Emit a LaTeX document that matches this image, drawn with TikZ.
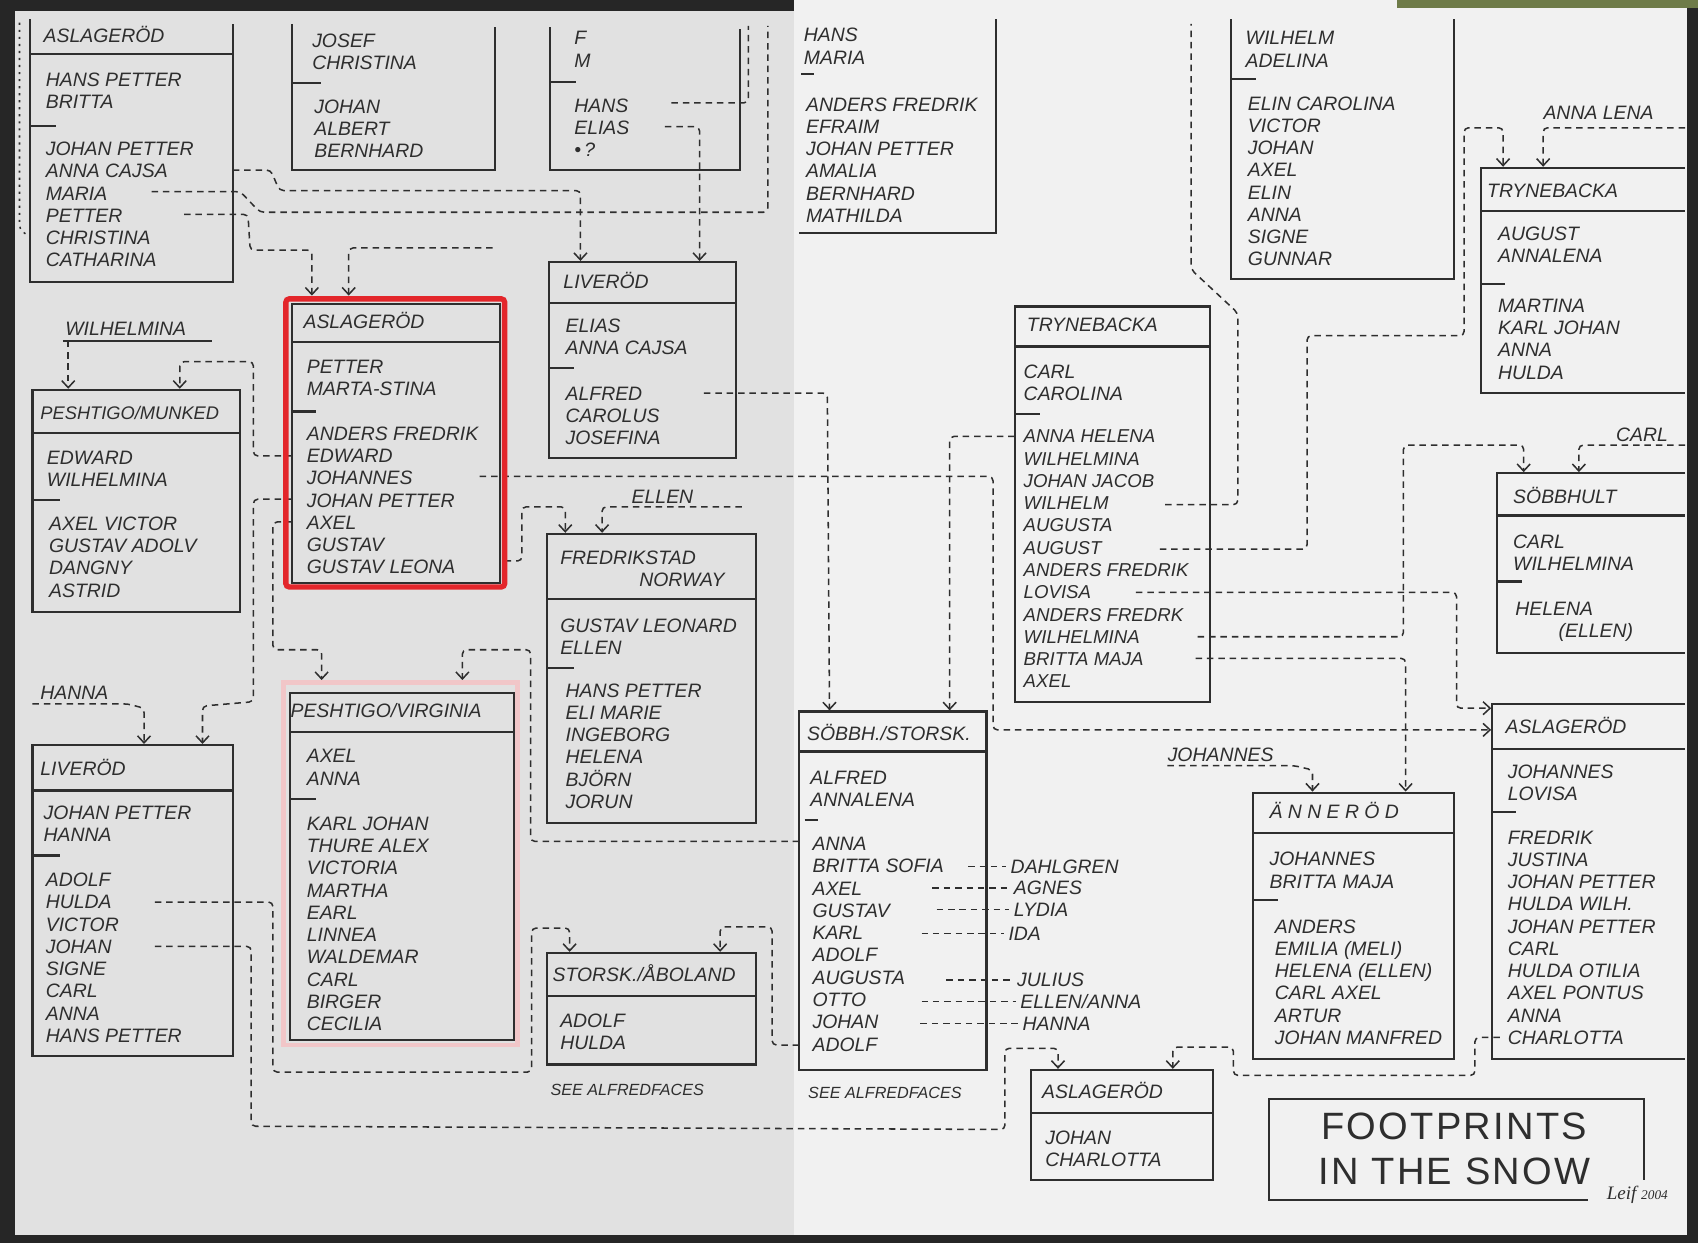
\documentclass[tikz,border=0pt]{standalone}
\usepackage{fontspec}
\setmainfont{Liberation Sans}
\newfontfamily\bannerfont[LetterSpace=6]{Liberation Sans}
\newfontfamily\signfont{Liberation Serif}
\usepackage{xcolor}
\usepackage{tikz}
\usetikzlibrary{arrows.meta, positioning, calc}
\definecolor{ink}{HTML}{2E2E2E}
\definecolor{pageleft}{HTML}{E1E1E1}
\definecolor{pageright}{HTML}{F1F1F1}
\definecolor{rim}{HTML}{262626}
\definecolor{markred}{HTML}{E3262B}
\definecolor{markpink}{HTML}{F3C4C6}
\definecolor{moss}{HTML}{6E7B48}

\begin{document}
\begin{tikzpicture}[x=0.2mm, y=-0.2mm,
    frame/.style={draw=ink, line width=1.1pt},
    famtitle/.style={anchor=west, inner sep=0pt, text=ink, text height=2.5mm, text depth=0pt, font=\fontsize{10.2}{11.7}\selectfont\itshape},
    famlist/.style={anchor=north west, yshift=1.24mm, inner sep=0pt, align=left, text=ink, font=\fontsize{10.2}{11.7}\selectfont\itshape},
    famnote/.style={famtitle, font=\fontsize{8.5}{10}\selectfont\itshape},
    link/.style={draw=ink, line width=0.8pt, dash pattern=on 1.2mm off 0.9mm, rounded corners=0.8mm},
    linkto/.style={link, -{Straight Barb[length=1.3mm, width=2.4mm]}}
]
\useasboundingbox (0,0) rectangle (1568,1148);

% Paper
\fill[rim] (0,0) rectangle (1568,1148);
\fill[pageleft] (14,10) rectangle (733,1140);
\fill[pageright] (733,0) rectangle (1558,1140);
\fill[moss] (1290,0) rectangle (1568,7);

% Aslageröd (top left)
\draw[frame] (28,18) -- (28,260) -- (215,260) -- (215,22);
\draw[frame] (28,50) -- (215,50);
\node[famtitle] (aslTLt) at (40,33) {ASLAGERÖD};
\node[famlist] (aslTLp) at (42,73) {HANS PETTER\\BRITTA};
\draw[frame] (28,116) -- (52,116);
\node[famlist] (aslTLc) at (42,137) {JOHAN PETTER\\ANNA CAJSA\\MARIA\\PETTER\\CHRISTINA\\CATHARINA};

% Josef / Christina
\draw[frame] (270,22) -- (270,157) -- (457,157) -- (457,25);
\node[famlist] (josefp) at (288,37) {JOSEF\\CHRISTINA};
\draw[frame] (270,77) -- (296,77);
\node[famlist] (josefc) at (290,98) {JOHAN\\ALBERT\\BERNHARD};

% F / M
\draw[frame] (508,25) -- (508,157) -- (683,157) -- (683,27);
\node[famlist] (fmp) at (530,35) {F\\M};
\draw[frame] (508,76) -- (532,76);
\node[famlist] (fmc) at (530,97) {HANS\\ELIAS\\•\,?};

% Hans / Maria
\draw[frame] (920,18) -- (920,215) -- (738,215);
\node[famlist] (hansp) at (742,32) {HANS\\MARIA};
\draw[frame] (740,68) -- (752,68);
\node[famlist] (hansc) at (744,96) {ANDERS FREDRIK\\EFRAIM\\JOHAN PETTER\\AMALIA\\BERNHARD\\MATHILDA};

% Wilhelm / Adelina
\draw[frame] (1137,18) -- (1137,258) -- (1343,258) -- (1343,18);
\node[famlist] (wilhp) at (1150,35) {WILHELM\\ADELINA};
\draw[frame] (1137,73) -- (1160,73);
\node[famlist] (wilhc) at (1152,95) {ELIN CAROLINA\\VICTOR\\JOHAN\\AXEL\\ELIN\\ANNA\\SIGNE\\GUNNAR};

% Trynebacka (right)
\draw[frame] (1556,155) -- (1368,155) -- (1368,363) -- (1556,363);
\draw[frame] (1368,195) -- (1556,195);
\node[famtitle] (trynRt) at (1373,176) {TRYNEBACKA};
\node[famlist] (trynRp) at (1383,215) {AUGUST\\ANNALENA};
\draw[frame] (1368,262) -- (1390,262);
\node[famlist] (trynRc) at (1383,282) {MARTINA\\KARL JOHAN\\ANNA\\HULDA};

% Aslageröd (marked red)
\draw[frame] (270,281) rectangle (462,538);
\draw[frame] (270,316) -- (462,316);
\node[famtitle] (aslRedt) at (280,297) {ASLAGERÖD};
\node[famlist] (aslRedp) at (283,338) {PETTER\\MARTA-STINA};
\draw[frame] (270,380) -- (292,380);
\node[famlist] (aslRedc) at (283,400) {ANDERS FREDRIK\\EDWARD\\JOHANNES\\JOHAN PETTER\\AXEL\\GUSTAV\\GUSTAV LEONA};

% Liveröd (middle)
\draw[frame] (507,242) rectangle (680,423);
\draw[frame] (507,280) -- (680,280);
\node[famtitle] (livMidt) at (520,260) {LIVERÖD};
\node[famlist] (livMidp) at (522,300) {ELIAS\\ANNA CAJSA};
\draw[frame] (507,340) -- (530,340);
\node[famlist] (livMidc) at (522,363) {ALFRED\\CAROLUS\\JOSEFINA};

% Peshtigo / Munked
\draw[frame] (30,360) rectangle (222,565);
\draw[frame] (30,400) -- (222,400);
\node[famtitle, font=\fontsize{9.6}{11}\selectfont\itshape] (peshMunt) at (37,381) {PESHTIGO/MUNKED};
\node[famlist] (peshMunp) at (43,422) {EDWARD\\WILHELMINA};
\draw[frame] (30,462) -- (55,462);
\node[famlist] (peshMunc) at (45,483) {AXEL VICTOR\\GUSTAV ADOLV\\DANGNY\\ASTRID};

% Fredrikstad Norway
\draw[frame] (505,493) rectangle (698,760);
\draw[frame] (505,553) -- (698,553);
\node[famtitle] (fredt) at (517,515) {FREDRIKSTAD};
\node[famtitle] (fredt2) at (590,535) {NORWAY};
\node[famlist] (fredp) at (517,577) {GUSTAV LEONARD\\ELLEN};
\draw[frame] (505,617) -- (530,617);
\node[famlist] (fredc) at (522,637) {HANS PETTER\\ELI MARIE\\INGEBORG\\HELENA\\BJÖRN\\JORUN};

% Peshtigo / Virginia
\draw[frame] (268,640) rectangle (475,960);
\draw[frame] (268,676) -- (475,676);
\node[famtitle] (peshVirt) at (268,656) {PESHTIGO/VIRGINIA};
\node[famlist] (peshVirp) at (283,698) {AXEL\\ANNA};
\draw[frame] (268,738) -- (292,738);
\node[famlist] (peshVirc) at (283,760) {KARL JOHAN\\THURE ALEX\\VICTORIA\\MARTHA\\EARL\\LINNEA\\WALDEMAR\\CARL\\BIRGER\\CECILIA};

% Liveröd (bottom left)
\draw[frame] (30,688) rectangle (215,975);
\draw[frame] (30,730) -- (215,730);
\node[famtitle] (livBLt) at (37,710) {LIVERÖD};
\node[famlist] (livBLp) at (40,750) {JOHAN PETTER\\HANNA};
\draw[frame] (30,790) -- (55,790);
\node[famlist] (livBLc) at (42,812) {ADOLF\\HULDA\\VICTOR\\JOHAN\\SIGNE\\CARL\\ANNA\\HANS PETTER};

% Storsk. / Åboland
\draw[frame] (505,880) rectangle (698,983);
\draw[frame] (505,920) -- (698,920);
\node[famtitle] (storskt) at (510,900) {STORSK./ÅBOLAND};
\node[famlist] (storskp) at (517,942) {ADOLF\\HULDA};
\node[famnote] (storskn) at (508,1005) {SEE ALFREDFACES};

% Söbbh. / Storsk.
\draw[frame] (738,657) rectangle (911,988);
\draw[frame] (738,694) -- (911,694);
\node[famtitle] (sobbht) at (745,678) {SÖBBH./STORSK.};
\node[famlist] (sobbhp) at (748,718) {ALFRED\\ANNALENA};
\draw[frame] (743,757) -- (755,757);
\node[famlist] (sobbhc) at (750,779) {ANNA\\BRITTA SOFIA\\AXEL\\GUSTAV\\KARL\\ADOLF\\AUGUSTA\\OTTO\\JOHAN\\ADOLF};
\node[famnote] (sobbhn) at (746,1008) {SEE ALFREDFACES};
\foreach \sx/\cy/\tx/\who [count=\i] in {894/800/933/DAHLGREN, 861/820/936/AGNES, 865/840/936/LYDIA, 851/862/931/IDA, 874/905/939/JULIUS, 851/925/942/ELLEN\slash ANNA, 850/945/944/HANNA}{
  \node[famtitle] (spouse\i) at (\tx,\cy) {\who};
  \draw[link] (\sx,\cy) -- ([xshift=-0.8mm]spouse\i.west);
}

% Trynebacka (middle)
\draw[frame] (937,283) rectangle (1117,648);
\draw[frame] (937,320) -- (1117,320);
\node[famtitle] (trynMt) at (948,300) {TRYNEBACKA};
\node[famlist] (trynMp) at (945,343) {CARL\\CAROLINA};
\draw[frame] (937,382) -- (960,382);
\node[famlist, font=\fontsize{9.8}{11.7}\selectfont\itshape] (trynMc) at (945,403) {ANNA HELENA\\WILHELMINA\\JOHAN JACOB\\WILHELM\\AUGUSTA\\AUGUST\\ANDERS FREDRIK\\LOVISA\\ANDERS FREDRK\\WILHELMINA\\BRITTA MAJA\\AXEL};

% Söbbhult
\draw[frame] (1556,437) -- (1382,437) -- (1382,603) -- (1556,603);
\draw[frame] (1382,476) -- (1556,476);
\node[famtitle] (sobbhultt) at (1397,459) {SÖBBHULT};
\node[famlist] (sobbhultp) at (1397,500) {CARL\\WILHELMINA};
\draw[frame] (1382,537) -- (1405,537);
\node[famlist] (sobbhultc) at (1399,562) {HELENA\\\hspace*{8mm}(ELLEN)};

% Änneröd
\draw[frame] (1157,732) rectangle (1343,978);
\draw[frame] (1157,769) -- (1343,769);
\node[famtitle] (annert) at (1172,750) {Ä N N E R Ö D};
\node[famlist] (annerp) at (1172,793) {JOHANNES\\BRITTA MAJA};
\draw[frame] (1157,831) -- (1180,831);
\node[famlist] (annerc) at (1177,855) {ANDERS\\EMILIA (MELI)\\HELENA (ELLEN)\\CARL AXEL\\ARTUR\\JOHAN MANFRED};

% Aslageröd (right)
\draw[frame] (1556,650) -- (1378,650) -- (1378,978) -- (1556,978);
\draw[frame] (1378,692) -- (1556,692);
\node[famtitle] (aslRt) at (1390,671) {ASLAGERÖD};
\node[famlist] (aslRp) at (1392,712) {JOHANNES\\LOVISA};
\draw[frame] (1378,750) -- (1400,750);
\node[famlist] (aslRc) at (1392,773) {FREDRIK\\JUSTINA\\JOHAN PETTER\\HULDA WILH.\\JOHAN PETTER\\CARL\\HULDA OTILIA\\AXEL PONTUS\\ANNA\\CHARLOTTA};

% Aslageröd (bottom)
\draw[frame] (952,988) rectangle (1120,1090);
\draw[frame] (952,1028) -- (1120,1028);
\node[famtitle] (aslBt) at (962,1008) {ASLAGERÖD};
\node[famlist] (aslBp) at (965,1050) {JOHAN\\CHARLOTTA};

% Banner
\draw[frame] (1466,1108) -- (1172,1108) -- (1172,1015) -- (1518,1015) -- (1518,1090);
\node[font=\bannerfont\fontsize{20}{24}\selectfont, text=ink] (banner1) at (1343,1040) {FOOTPRINTS};
\node[font=\bannerfont\fontsize{20}{24}\selectfont, text=ink] (banner2) at (1343,1082) {IN THE SNOW};
\node[font=\signfont\itshape\fontsize{10}{12}\selectfont, text=ink] (sign) at (1512,1103) {Leif {\fontsize{7}{8}\selectfont 2004}};

% Loose names
\node[famtitle] (tagWilhelmina) at (60,304) {WILHELMINA};
\draw[ink, line width=0.8pt] (58,315) -- (196,315);
\node[famtitle] (tagHanna) at (37,640) {HANNA};
\node[famtitle] (tagEllen) at (583,459) {ELLEN};
\node[famtitle] (tagAnnalena) at (1425,104) {ANNA LENA};
\node[famtitle] (tagCarl) at (1492,401) {CARL};
\node[famtitle] (tagJohannes) at (1078,697) {JOHANNES};

% Links
\draw[link, dash pattern=on 0.4mm off 0.9mm] (18,21) -- (18,212) -- (28,219);
\draw[linkto] (215,157) -- (250,157) -- (258,176) -- (536,176) -- (536,241);
\draw[linkto] (614,117) -- (646,117) -- (646,241);
\draw[link] (620,95) -- (691,95) -- (691,24);
\draw[link] (140,177) -- (222,177) -- (240,196) -- (709,196) -- (709,24);
\draw[linkto] (170,198) -- (229,198) -- (231,231) -- (288,231) -- (288,273);
\draw[linkto] (455,229) -- (322,229) -- (322,273);
\draw[linkto] (270,421) -- (234,421) -- (234,334) -- (166,334) -- (166,359);
\draw[linkto] (tagWilhelmina.south west -| 63,0) ++(0,4) -- (63,359);
\draw[linkto] (270,461) -- (234,461) -- (234,648) -- (187,652) -- (187,687);
\draw[linkto] (270,482) -- (252,482) -- (252,600) -- (297,600) -- (297,628);
\draw[linkto] (443,440) -- (917,440) -- (917,674) -- (1377,674);
\draw[linkto] (466,518) -- (482,518) -- (482,468) -- (522,468) -- (522,492);
\draw[linkto] (685,468) -- (556,468) -- (556,492);
\draw[linkto] (650,363) -- (764,363) -- (766,656);
\draw[linkto] (738,777) -- (490,777) -- (490,600) -- (427,600) -- (427,628);
\draw[linkto] (30,650) -- (118,650) -- (133,654) -- (133,687);
\draw[linkto] (143,833) -- (252,833) -- (252,990) -- (491,990) -- (491,857) -- (526,857) -- (526,879);
\draw[linkto] (143,874) -- (232,874) -- (232,1040) -- (928,1043) -- (928,968) -- (977,968) -- (977,987);
\draw[linkto] (738,965) -- (713,965) -- (713,856) -- (665,856) -- (665,879);
\draw[linkto] (937,403) -- (877,403) -- (877,656);
\draw[link] (1076,466) -- (1143,466) -- (1143,289) -- (1100,249) -- (1100,22);
\draw[linkto] (1071,507) -- (1207,507) -- (1207,310) -- (1352,310) -- (1352,118) -- (1388,118) -- (1388,154);
\draw[linkto] (1556,118) -- (1425,118) -- (1425,154);
\draw[linkto] (1049,547) -- (1345,547) -- (1345,654) -- (1377,654);
\draw[linkto] (1106,588) -- (1296,588) -- (1296,411) -- (1407,411) -- (1407,436);
\draw[linkto] (1556,411) -- (1458,411) -- (1458,436);
\draw[linkto] (1104,608) -- (1298,608) -- (1298,731);
\draw[linkto] (1078,707) -- (1195,707) -- (1212,711) -- (1212,731);
\draw[linkto] (1385,958) -- (1362,958) -- (1362,993) -- (1139,993) -- (1139,967) -- (1083,967) -- (1083,987);

% Highlights
\draw[markred, line width=2.8pt, rounded corners=0.6mm] (264,276) rectangle (466,542);
\draw[markpink, line width=2.6pt, opacity=0.9] (262,630) rectangle (478,965);

\end{tikzpicture}
\end{document}
